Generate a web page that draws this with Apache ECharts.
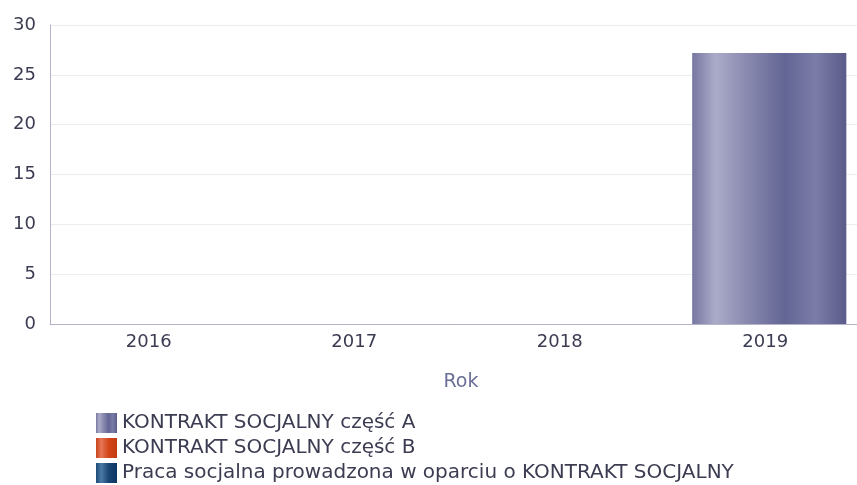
<!DOCTYPE html>
<html>
<head>
<meta charset="utf-8">
<script src="https://cdn.jsdelivr.net/npm/echarts@6/dist/echarts.min.js"></script>
<style>
  html, body { margin: 0; padding: 0; background: #fff; }
  #chart { width: 857px; height: 485px; }
</style>
</head>
<body>
<div id="chart"></div>
<script>
// dane wykresu
var years = ['2016', '2017', '2018', '2019'];
var seriesNames = [
    'KONTRAKT SOCJALNY część A',
    'KONTRAKT SOCJALNY część B',
    'Praca socjalna prowadzona w oparciu o KONTRAKT SOCJALNY'
];
var valuesA = [0, 0, 0, 27.2];
var valuesB = [0, 0, 0, 0];
var valuesC = [0, 0, 0, 0];
var yTicks = [0, 5, 10, 15, 20, 25, 30];

var myChart = echarts.init(document.getElementById('chart'));

function grad(stops) {
    return new echarts.graphic.LinearGradient(0, 0, 1, 0, stops.map(function (s) {
        return { offset: s[0], color: s[1] };
    }));
}

var colorA = grad([[0, '#7676a2'], [0.15, '#ababc9'], [0.35, '#8a8ab0'], [0.6, '#636594'], [0.8, '#7b7ca8'], [1, '#5a5b88']]);
var colorB = grad([[0, '#c9441c'], [0.25, '#e57656'], [0.6, '#d4461a'], [1, '#c23a10']]);
var colorC = grad([[0, '#1d4a78'], [0.25, '#4a7aa5'], [0.6, '#194674'], [1, '#0c3563']]);

var fontFam = 'DejaVu Sans';
var textColor = '#3b3c52';

var option = {
    backgroundColor: '#fff',
    textStyle: { fontFamily: fontFam },
    grid: {
        left: 50,
        top: 25,
        bottom: 161,
        width: 822,
        outerBoundsMode: 'none'
    },
    legend: {
        orient: 'vertical',
        left: 96,
        top: 413,
        height: 100,
        padding: 0,
        itemWidth: 21,
        itemHeight: 20,
        itemGap: 5,
        icon: 'rect',
        textStyle: { fontSize: 20, color: textColor, fontFamily: fontFam },
        data: seriesNames
    },
    xAxis: {
        type: 'category',
        data: years,
        name: 'Rok',
        nameLocation: 'middle',
        nameGap: 49,
        nameTextStyle: { fontSize: 19, color: '#6b6f98', fontFamily: fontFam },
        axisLine: { show: true, lineStyle: { color: '#b3b4cc', width: 1 } },
        axisTick: { show: false },
        axisLabel: { fontSize: 18, color: textColor, margin: 9, padding: [0, 8, 0, 0] },
        splitLine: { show: false }
    },
    yAxis: {
        type: 'value',
        min: yTicks[0],
        max: yTicks[yTicks.length - 1],
        interval: 5,
        axisLine: { show: true, lineStyle: { color: '#b3b4cc', width: 1 } },
        axisTick: { show: false },
        axisLabel: { fontSize: 18, color: textColor, margin: 14 },
        splitLine: { show: true, lineStyle: { color: '#ebebf0', width: 1 } }
    },
    series: [{
        name: seriesNames[0],
        type: 'bar',
        stack: 'total',
        barWidth: '75%',
        data: valuesA,
        itemStyle: { color: colorA }
    }, {
        name: seriesNames[1],
        type: 'bar',
        stack: 'total',
        barWidth: '75%',
        data: valuesB,
        itemStyle: { color: colorB }
    }, {
        name: seriesNames[2],
        type: 'bar',
        stack: 'total',
        barWidth: '75%',
        data: valuesC,
        itemStyle: { color: colorC }
    }]
};

myChart.setOption(option);
window.addEventListener('resize', function () {
    myChart.resize();
});
</script>
</body>
</html>
